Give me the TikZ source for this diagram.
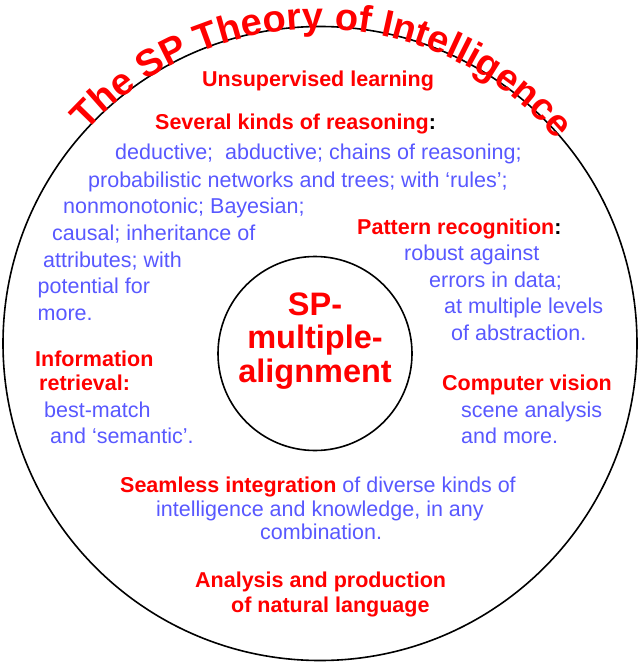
\documentclass[tikz,border=0pt]{standalone}
\usepackage{fontspec}
\setmainfont{Liberation Sans}
\usetikzlibrary{decorations.text}
\definecolor{spred}{RGB}{255,0,0}
\definecolor{spblue}{RGB}{88,88,255}
\newcommand\sphead{\fontsize{21.5}{26}\selectfont\bfseries}
\newcommand\spbody{\fontsize{21.5}{26}\selectfont}
\newcommand\spcore{\fontsize{32.5}{36}\selectfont\bfseries}
\newcommand\sptitle{\fontsize{38}{41}\selectfont\bfseries\color{spred}}
\begin{document}
\begin{tikzpicture}[x=1pt,y=-1pt,
  hd/.style={anchor=base west,inner sep=0pt,text=spred,font=\sphead},
  bd/.style={anchor=base west,inner sep=0pt,text=spblue,font=\spbody},
  core/.style={anchor=base,inner sep=0pt,text=spred,font=\spcore},
  ring/.style={draw=black,circle,line width=1.6pt,inner sep=0pt}]
\useasboundingbox (0,0) rectangle (640,663);
\node[ring,minimum size=634pt] (outer) at (320,343.5) {};
\node[ring,minimum size=194pt] (inner) at (315,353.5) {};
% title along the arc
\coordinate (tc) at (318,341);
\path[decorate,decoration={text along path,text align=center,
  text={|\sptitle|The SP Theory of Intelligence}}]
  (tc) ++(-139:312) arc[start angle=-139,end angle=-39,radius=312];
% centre
\node[core] (c1) at (315,315) {SP-};
\node[core] (c2) at (315,348) {multiple-};
\node[core] (c3) at (315,382) {alignment};
% top
\node[hd] (u1) at (202,87) {Unsupervised learning};
\node[hd] (r0) at (155,130) {Several kinds of reasoning{\color{black}:}};
\node[bd] (r1) at (115,160) {deductive;\ \ abductive; chains of reasoning;};
\node[bd] (r2) at (88,187) {probabilistic networks and trees; with ‘rules’;};
\node[bd] (r3) at (63,213) {nonmonotonic; Bayesian;};
\node[bd] (r4) at (52,240) {causal; inheritance of};
\node[bd] (r5) at (43,267) {attributes; with};
\node[bd] (r6) at (37.5,293) {potential for};
\node[bd] (r7) at (37.5,320) {more.};
% pattern recognition
\node[hd] (p0) at (357,234) {Pattern recognition{\color{black}:}};
\node[bd] (p1) at (404,260) {robust against};
\node[bd] (p2) at (429,287) {errors in data;};
\node[bd] (p3) at (444,313) {at multiple levels};
\node[bd] (p4) at (451,340) {of abstraction.};
% information retrieval
\node[hd] (i0) at (35,366) {Information};
\node[hd] (i1) at (39,390) {retrieval:};
\node[bd] (i2) at (44,417) {best-match};
\node[bd] (i3) at (50,443) {and ‘semantic’.};
% computer vision
\node[hd] (v0) at (442,390) {Computer vision};
\node[bd] (v1) at (461,417) {scene analysis};
\node[bd] (v2) at (461,443) {and more.};
% integration
\node[hd] (s0) at (120,492) {Seamless integration\textcolor{spblue}{\mdseries\ of diverse kinds of}};
\node[bd] (s1) at (156,516) {intelligence and knowledge, in any};
\node[bd] (s2) at (260,539) {combination.};
% language
\node[hd] (l0) at (195,587) {Analysis and production};
\node[hd] (l1) at (231,612) {of natural language};
\end{tikzpicture}
\end{document}
